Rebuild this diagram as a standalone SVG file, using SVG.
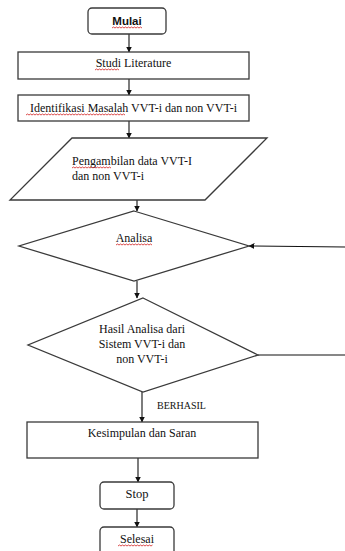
<svg xmlns="http://www.w3.org/2000/svg" width="345" height="551" viewBox="0 0 345 551">
<style>
.box{fill:#fff;stroke:#3a3a3a;stroke-width:1.3}
.t{font-family:"Liberation Serif","Times New Roman",serif;font-size:12px;fill:#111}
.c{text-anchor:middle}
.line{fill:none;stroke:#111;stroke-width:1.1}
.sq{fill:none;stroke:#d02020;stroke-width:0.8}
</style>
<defs>
<marker id="ah" markerWidth="6" markerHeight="6" refX="5.5" refY="3" orient="auto" markerUnits="userSpaceOnUse">
<path d="M0,0 L6,3 L0,6 Z" fill="#111"/>
</marker>
</defs>
<rect width="345" height="551" fill="#fff"/>
<g id="connectors">
<line class="line" x1="129" y1="34" x2="129" y2="52" marker-end="url(#ah)"/>
<line class="line" x1="129" y1="79" x2="129" y2="95" marker-end="url(#ah)"/>
<line class="line" x1="129" y1="121" x2="129" y2="138" marker-end="url(#ah)"/>
<line class="line" x1="137" y1="200" x2="137" y2="211" marker-end="url(#ah)"/>
<line class="line" x1="345" y1="247" x2="249" y2="246" marker-end="url(#ah)"/>
<line class="line" x1="137" y1="281" x2="137" y2="298" marker-end="url(#ah)"/>
<line class="line" x1="258" y1="355" x2="345" y2="355"/>
<line class="line" x1="142" y1="392" x2="142" y2="422" marker-end="url(#ah)"/>
<line class="line" x1="138" y1="458" x2="138" y2="482" marker-end="url(#ah)"/>
<line class="line" x1="137" y1="509" x2="137" y2="527" marker-end="url(#ah)"/>
<text class="t" x="157" y="409" style="font-size:10px">BERHASIL</text>
</g>
<g id="mulai">
<rect class="box" x="88" y="8" width="78" height="26" rx="4"/>
<text x="127" y="25" text-anchor="middle" font-family="Liberation Sans, Arial, sans-serif" font-size="11.5" font-weight="bold" fill="#111">Mulai</text>
<path class="sq" d="M112,28 l1.5,-1 l1.5,1 l1.5,-1 l1.5,1 l1.5,-1 l1.5,1 l1.5,-1 l1.5,1 l1.5,-1 l1.5,1 l1.5,-1 l1.5,1 l1.5,-1 l1.5,1 l1.5,-1 l1.5,1 l1.5,-1 l1.5,1 l1.5,-1 l1.5,1"/>
</g>
<g id="studi">
<rect class="box" x="18" y="52" width="231" height="27"/>
<text class="t c" x="133.5" y="67">Studi Literature</text>
<path class="sq" d="M95,70 l1.5,-1 l1.5,1 l1.5,-1 l1.5,1 l1.5,-1 l1.5,1 l1.5,-1 l1.5,1 l1.5,-1 l1.5,1 l1.5,-1 l1.5,1 l1.5,-1 l1.5,1 l1.5,-1 l1.5,1"/>
</g>
<g id="identifikasi">
<rect class="box" x="18" y="95" width="231" height="26"/>
<text class="t c" x="133.5" y="112">Identifikasi Masalah VVT-i dan non VVT-i</text>
<path class="sq" d="M26,115 l1.5,-1 l1.5,1 l1.5,-1 l1.5,1 l1.5,-1 l1.5,1 l1.5,-1 l1.5,1 l1.5,-1 l1.5,1 l1.5,-1 l1.5,1 l1.5,-1 l1.5,1 l1.5,-1 l1.5,1 l1.5,-1 l1.5,1 l1.5,-1 l1.5,1 l1.5,-1 l1.5,1 l1.5,-1 l1.5,1 l1.5,-1 l1.5,1 l1.5,-1 l1.5,1 l1.5,-1 l1.5,1 l1.5,-1 l1.5,1 l1.5,-1 l1.5,1 l1.5,-1 l1.5,1 l1.5,-1 l1.5,1 l1.5,-1 l1.5,1 l1.5,-1 l1.5,1 l1.5,-1 l1.5,1 l1.5,-1 l1.5,1 l1.5,-1 l1.5,1 l1.5,-1 l1.5,1 l1.5,-1 l1.5,1 l1.5,-1 l1.5,1 l1.5,-1 l1.5,1 l1.5,-1 l1.5,1 l1.5,-1 l1.5,1 l1.5,-1 l1.5,1 l1.5,-1 l1.5,1 l1.5,-1 l1.5,1"/>
</g>
<g id="pengambilan">
<polygon class="box" points="72,138 267,138 205,200 10,200"/>
<text class="t" x="72" y="165">Pengambilan data VVT-I</text>
<text class="t" x="72" y="180">dan non VVT-i</text>
<path class="sq" d="M72,168 l1.5,-1 l1.5,1 l1.5,-1 l1.5,1 l1.5,-1 l1.5,1 l1.5,-1 l1.5,1 l1.5,-1 l1.5,1 l1.5,-1 l1.5,1 l1.5,-1 l1.5,1 l1.5,-1 l1.5,1 l1.5,-1 l1.5,1 l1.5,-1 l1.5,1 l1.5,-1 l1.5,1 l1.5,-1 l1.5,1 l1.5,-1 l1.5,1"/>
</g>
<g id="analisa">
<polygon class="box" points="134,211 249,246 134,281 19,246"/>
<text class="t c" x="134" y="242">Analisa</text>
<path class="sq" d="M116,245 l1.5,-1 l1.5,1 l1.5,-1 l1.5,1 l1.5,-1 l1.5,1 l1.5,-1 l1.5,1 l1.5,-1 l1.5,1 l1.5,-1 l1.5,1 l1.5,-1 l1.5,1 l1.5,-1 l1.5,1 l1.5,-1 l1.5,1 l1.5,-1 l1.5,1 l1.5,-1 l1.5,1 l1.5,-1 l1.5,1"/>
</g>
<g id="hasil">
<polygon class="box" points="143,298 258,355 143,392 28,345"/>
<text class="t c" x="142" y="333">Hasil Analisa dari</text>
<text class="t c" x="142" y="348">Sistem VVT-i dan</text>
<text class="t c" x="142" y="363">non VVT-i</text>
</g>
<g id="kesimpulan">
<rect class="box" x="27" y="422" width="231" height="36"/>
<text class="t c" x="142" y="437">Kesimpulan dan Saran</text>
</g>
<g id="stop">
<rect class="box" x="100" y="482" width="74" height="27" rx="4"/>
<text class="t c" x="137" y="498" style="font-size:12.5px">Stop</text>
</g>
<g id="selesai">
<rect class="box" x="100" y="527" width="74" height="30" rx="4"/>
<text class="t c" x="137" y="543">Selesai</text>
<path class="sq" d="M118,546 l1.5,-1 l1.5,1 l1.5,-1 l1.5,1 l1.5,-1 l1.5,1 l1.5,-1 l1.5,1 l1.5,-1 l1.5,1 l1.5,-1 l1.5,1 l1.5,-1 l1.5,1 l1.5,-1 l1.5,1 l1.5,-1 l1.5,1 l1.5,-1 l1.5,1 l1.5,-1 l1.5,1 l1.5,-1"/>
</g>
</svg>
